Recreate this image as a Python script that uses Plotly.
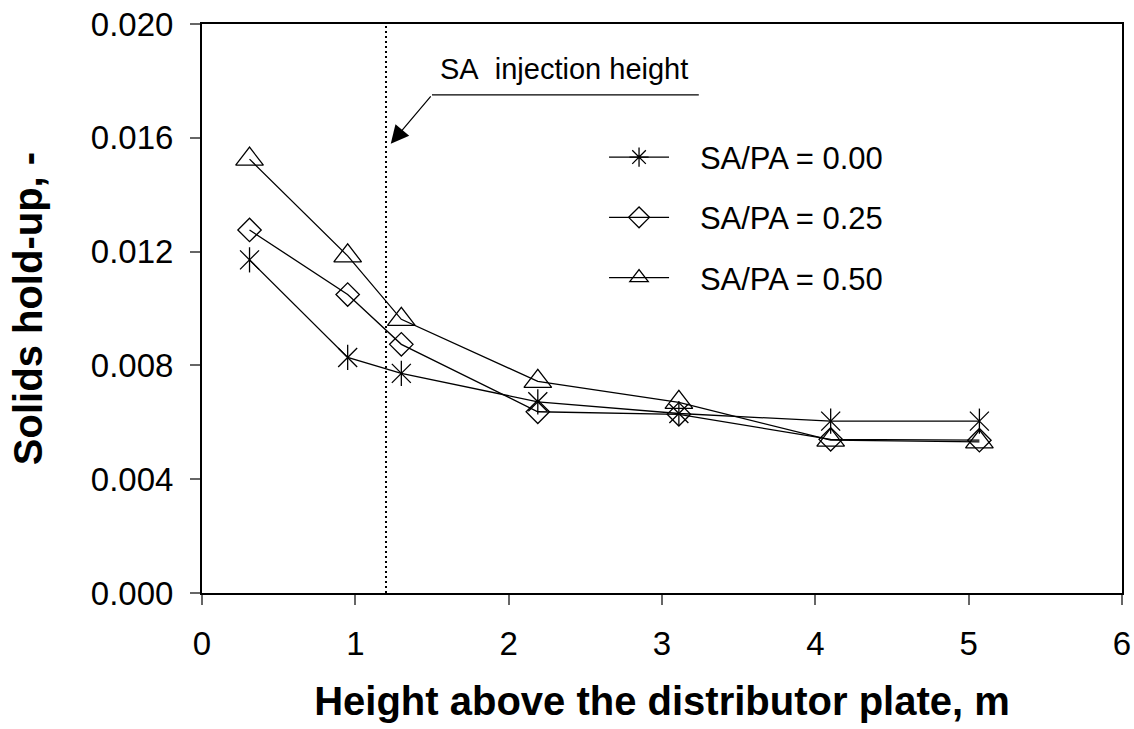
import plotly.graph_objects as go

# ---- data ----
height_m = [0.31, 0.95, 1.30, 2.19, 3.11, 4.10, 5.07]
holdup_sapa_000 = [0.01171, 0.00828, 0.00772, 0.00672, 0.00631, 0.00604, 0.00604]
holdup_sapa_025 = [0.01276, 0.01049, 0.00874, 0.00637, 0.00628, 0.00540, 0.00537]
holdup_sapa_050 = [0.01525, 0.01185, 0.00962, 0.00744, 0.00670, 0.00537, 0.00531]
series_names = ["SA/PA = 0.00", "SA/PA = 0.25", "SA/PA = 0.50"]
sa_injection_height = 1.2
x_tick_vals = [0, 1, 2, 3, 4, 5, 6]
y_tick_vals = [0.000, 0.004, 0.008, 0.012, 0.016, 0.020]
y_tick_text = ["0.000", "0.004", "0.008", "0.012", "0.016", "0.020"]
annotation_text = "SA\u00a0 injection height"
x_title = "Height above the distributor plate, m"
y_title = "Solids hold-up, -"

FONT = "Liberation Sans, Arial, sans-serif"
LW = 1.3

fig = go.Figure()

# plotted series (legend drawn by dedicated entries below)
fig.add_trace(go.Scatter(x=height_m, y=holdup_sapa_000, mode="lines+markers",
                         line=dict(color="black", width=LW),
                         marker=dict(symbol="x-thin-open", size=19, color="black",
                                     line=dict(color="black", width=LW)),
                         showlegend=False, hoverinfo="skip"))
fig.add_trace(go.Scatter(x=height_m, y=holdup_sapa_000, mode="markers",
                         marker=dict(symbol="line-ns-open", size=18, color="black",
                                     line=dict(color="black", width=LW)),
                         showlegend=False, hoverinfo="skip"))
fig.add_trace(go.Scatter(x=height_m, y=holdup_sapa_025, mode="lines+markers",
                         line=dict(color="black", width=LW),
                         marker=dict(symbol="diamond-open", size=18, color="black",
                                     line=dict(color="black", width=LW)),
                         showlegend=False, hoverinfo="skip"))
fig.add_trace(go.Scatter(x=height_m, y=holdup_sapa_050, mode="lines+markers",
                         line=dict(color="black", width=LW),
                         marker=dict(symbol="triangle-up-open", size=24, color="black",
                                     line=dict(color="black", width=LW)),
                         showlegend=False, hoverinfo="skip"))

# legend entries
legend_symbols = ["asterisk-open", "diamond-open", "triangle-up-open"]
for i, (name, sym) in enumerate(zip(series_names, legend_symbols)):
    fig.add_trace(go.Scatter(x=[None], y=[None], mode="lines+markers",
                             name="\u00a0\u00a0\u00a0" + name,
                             legendgroup=f"g{i}",
                             line=dict(color="black", width=LW),
                             marker=dict(symbol=sym, size=16, color="black",
                                         line=dict(color="black", width=LW))))

# SA injection height reference line
fig.add_shape(type="line", xref="x", yref="paper", x0=sa_injection_height,
              x1=sa_injection_height, y0=0, y1=1,
              line=dict(color="black", width=2, dash="2px,3px"))

# leader line of the annotation
fig.add_shape(type="line", xref="x", yref="y", x0=1.50, x1=3.24, y0=0.01751, y1=0.01751,
              line=dict(color="black", width=1.2))
fig.add_annotation(x=1.231, y=0.01579, ax=1.50, ay=0.01751, axref="x", ayref="y",
                   xref="x", yref="y", text="", showarrow=True, arrowhead=2,
                   arrowsize=3, arrowwidth=1.2, arrowcolor="black")
fig.add_annotation(x=1.541, y=0.0178, xref="x", yref="y", xanchor="left", yanchor="bottom",
                   text=annotation_text, showarrow=False,
                   font=dict(family=FONT, size=29, color="black"))

axis_common = dict(showline=True, linewidth=2, linecolor="black", mirror=True,
                   ticks="outside", ticklen=10, tickwidth=1.5, tickcolor="#666666",
                   showgrid=False, zeroline=False,
                   tickfont=dict(family=FONT, size=33, color="black"))

fig.update_xaxes(range=[0, 6], tickvals=x_tick_vals, ticklabelstandoff=10,
                 title=dict(text=x_title, standoff=26,
                            font=dict(family=FONT, size=40, color="black", weight="bold")),
                 **axis_common)
fig.update_yaxes(range=[0, 0.02], tickvals=y_tick_vals, ticktext=y_tick_text,
                 ticklabelstandoff=10,
                 title=dict(text=y_title, standoff=36,
                            font=dict(family=FONT, size=40, color="black", weight="bold")),
                 **axis_common)

fig.update_layout(
    width=1134, height=729,
    margin=dict(l=202, r=12, t=24, b=136, autoexpand=False),
    paper_bgcolor="white", plot_bgcolor="white",
    font=dict(family=FONT, color="black"),
    showlegend=True,
    legend=dict(x=0.437, y=0.813, xanchor="left", yanchor="top",
                bgcolor="rgba(0,0,0,0)", borderwidth=0,
                font=dict(family=FONT, size=31, color="black"),
                traceorder="grouped", tracegroupgap=17, itemwidth=60),
)

fig.write_html("out.html", config={"displayModeBar": False},
               post_script="document.body.style.margin='0';document.body.style.padding='0';")
